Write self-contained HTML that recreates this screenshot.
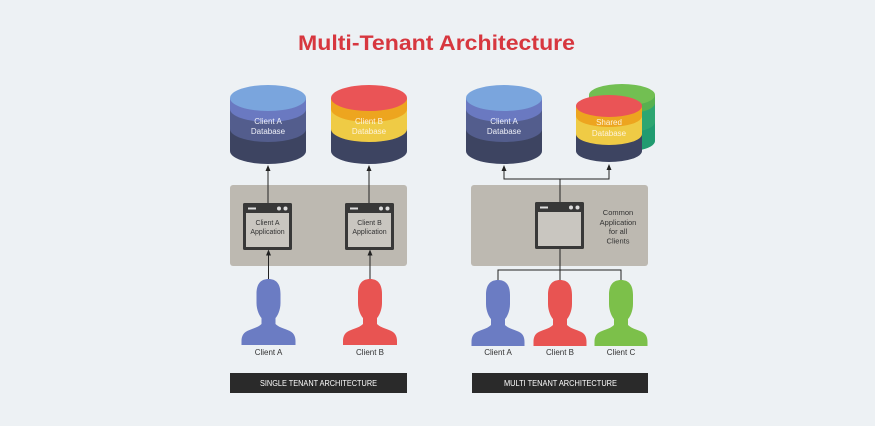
<!DOCTYPE html>
<html><head><meta charset="utf-8"><style>
html,body{margin:0;padding:0;background:#edf1f4;}
svg{display:block;}
text{font-family:"Liberation Sans",Arial,sans-serif;}
</style></head><body>
<svg width="875" height="426" viewBox="0 0 875 426" xmlns="http://www.w3.org/2000/svg">
<rect x="0" y="0" width="875" height="426" fill="#edf1f4"/>
<text x="298" y="50" font-size="21" font-weight="bold" fill="#d7373f" textLength="277" lengthAdjust="spacingAndGlyphs">Multi-Tenant Architecture</text>

<!-- Panels -->
<rect x="230" y="185" width="177" height="81" rx="3" fill="#bdb9b1"/>
<rect x="471" y="185" width="177" height="81" rx="3" fill="#bdb9b1"/>

<!-- Single A DB -->
<path d="M230,98 L230,151 A38,13 0 0 0 306,151 L306,98 Z" fill="#3d4461"/>
<path d="M230,98 L230,129 A38,13 0 0 0 306,129 L306,98 Z" fill="#535d8d"/>
<path d="M230,98 L230,109 A38,13 0 0 0 306,109 L306,98 Z" fill="#6a79c1"/>
<ellipse cx="268" cy="98" rx="38" ry="13" fill="#7aa5dd"/>
<text x="268" y="124" font-size="8" fill="#eef0f8" text-anchor="middle">Client A</text>
<text x="268" y="134" font-size="8" fill="#eef0f8" text-anchor="middle">Database</text>

<!-- Single B DB -->
<path d="M331,98 L331,151 A38,13 0 0 0 407,151 L407,98 Z" fill="#3d4461"/>
<path d="M331,98 L331,129 A38,13 0 0 0 407,129 L407,98 Z" fill="#efcb45"/>
<path d="M331,98 L331,109 A38,13 0 0 0 407,109 L407,98 Z" fill="#eda51f"/>
<ellipse cx="369" cy="98" rx="38" ry="13" fill="#ea5456"/>
<text x="369" y="124" font-size="8" fill="#fdf3dc" text-anchor="middle">Client B</text>
<text x="369" y="134" font-size="8" fill="#fdf3dc" text-anchor="middle">Database</text>

<!-- Multi A DB -->
<path d="M466,98 L466,151 A38,13 0 0 0 542,151 L542,98 Z" fill="#3d4461"/>
<path d="M466,98 L466,129 A38,13 0 0 0 542,129 L542,98 Z" fill="#535d8d"/>
<path d="M466,98 L466,109 A38,13 0 0 0 542,109 L542,98 Z" fill="#6a79c1"/>
<ellipse cx="504" cy="98" rx="38" ry="13" fill="#7aa5dd"/>
<text x="504" y="124" font-size="8" fill="#eef0f8" text-anchor="middle">Client A</text>
<text x="504" y="134" font-size="8" fill="#eef0f8" text-anchor="middle">Database</text>

<!-- Green back DB -->
<path d="M589,95 L589,141 A33,11 0 0 0 655,141 L655,95 Z" fill="#219b70"/>
<path d="M589,95 L589,122 A33,11 0 0 0 655,122 L655,95 Z" fill="#2ea671"/>
<path d="M589,95 L589,103 A33,11 0 0 0 655,103 L655,95 Z" fill="#58b14f"/>
<ellipse cx="622" cy="95" rx="33" ry="11" fill="#72bf52"/>

<!-- Shared front DB -->
<path d="M576,106 L576,151 A33,11 0 0 0 642,151 L642,106 Z" fill="#3d4461"/>
<path d="M576,106 L576,134 A33,11 0 0 0 642,134 L642,106 Z" fill="#efcb45"/>
<path d="M576,106 L576,116 A33,11 0 0 0 642,116 L642,106 Z" fill="#eda51f"/>
<ellipse cx="609" cy="106" rx="33" ry="11" fill="#ea5456"/>
<text x="609" y="125" font-size="8" fill="#fdf3dc" text-anchor="middle">Shared</text>
<text x="609" y="136" font-size="8" fill="#fdf3dc" text-anchor="middle">Database</text>

<!-- Windows -->
<g>
<rect x="243" y="203" width="49" height="47" rx="1.5" fill="#383838"/>
<rect x="246" y="213" width="43" height="34" fill="#c9c6c0"/>
<rect x="248" y="207.5" width="8" height="2" fill="#dddddd"/>
<circle cx="279" cy="208.5" r="2" fill="#dddddd"/>
<circle cx="285.5" cy="208.5" r="2" fill="#dddddd"/>
<text x="267.5" y="225" font-size="7" fill="#333" text-anchor="middle">Client A</text>
<text x="267.5" y="234" font-size="7" fill="#333" text-anchor="middle">Application</text>
</g>
<g>
<rect x="345" y="203" width="49" height="47" rx="1.5" fill="#383838"/>
<rect x="348" y="213" width="43" height="34" fill="#c9c6c0"/>
<rect x="350" y="207.5" width="8" height="2" fill="#dddddd"/>
<circle cx="381" cy="208.5" r="2" fill="#dddddd"/>
<circle cx="387.5" cy="208.5" r="2" fill="#dddddd"/>
<text x="369.5" y="225" font-size="7" fill="#333" text-anchor="middle">Client B</text>
<text x="369.5" y="234" font-size="7" fill="#333" text-anchor="middle">Application</text>
</g>
<g>
<rect x="535" y="202" width="49" height="47" rx="1.5" fill="#383838"/>
<rect x="538" y="212" width="43" height="34" fill="#c9c6c0"/>
<rect x="540" y="206.5" width="8" height="2" fill="#dddddd"/>
<circle cx="571" cy="207.5" r="2" fill="#dddddd"/>
<circle cx="577.5" cy="207.5" r="2" fill="#dddddd"/>
</g>
<text x="618" y="215" font-size="7.5" fill="#333" text-anchor="middle">Common</text>
<text x="618" y="225" font-size="7.5" fill="#333" text-anchor="middle">Application</text>
<text x="618" y="234" font-size="7.5" fill="#333" text-anchor="middle">for all</text>
<text x="618" y="243.5" font-size="7.5" fill="#333" text-anchor="middle">Clients</text>

<!-- Connectors single -->
<g stroke="#222" stroke-width="1" fill="none">
<line x1="268" y1="203" x2="268" y2="170"/>
<line x1="369" y1="203" x2="369" y2="170"/>
<line x1="268.5" y1="279" x2="268.5" y2="254"/>
<line x1="370" y1="279" x2="370" y2="254"/>
<line x1="560" y1="202" x2="560" y2="179"/>
<line x1="503.5" y1="179" x2="609.5" y2="179"/>
<line x1="504" y1="179" x2="504" y2="170"/>
<line x1="609" y1="179" x2="609" y2="169"/>
<line x1="560" y1="249" x2="560" y2="281"/>
<line x1="497.5" y1="270" x2="621.5" y2="270"/>
<line x1="498" y1="270" x2="498" y2="281"/>
<line x1="621" y1="270" x2="621" y2="281"/>
</g>
<g fill="#222">
<polygon points="268,165 265.5,171 270.5,171"/>
<polygon points="369,165 366.5,171 371.5,171"/>
<polygon points="268.5,249.5 266,255.5 271,255.5"/>
<polygon points="370,249.5 367.5,255.5 372.5,255.5"/>
<polygon points="504,165 501.5,171 506.5,171"/>
<polygon points="609,164 606.5,170 611.5,170"/>
</g>

<!-- Persons -->
<path fill="#6b7cc3" d="M256.5,294 C256.5,283 261.5,279 268.5,279 C275.5,279 280.5,283 280.5,294 L280.5,303 C280.5,310 277.5,316 275.5,318 L275.5,324 C278.5,327 282.5,328 287.5,330 C293.5,332 295.5,336 295.5,341 L295.5,345 L241.5,345 L241.5,341 C241.5,336 243.5,332 249.5,330 C254.5,328 258.5,327 261.5,324 L261.5,318 C259.5,316 256.5,310 256.5,303 Z"/>
<path fill="#e85452" d="M358,294 C358,283 363,279 370,279 C377,279 382,283 382,294 L382,303 C382,310 379,316 377,318 L377,324 C380,327 384,328 389,330 C395,332 397,336 397,341 L397,345 L343,345 L343,341 C343,336 345,332 351,330 C356,328 360,327 363,324 L363,318 C361,316 358,310 358,303 Z"/>
<path fill="#6b7cc3" d="M486,295 C486,284 491,280 498,280 C505,280 510,284 510,295 L510,304 C510,311 507,317 505,319 L505,325 C508,328 512,329 517,331 C523,333 524.5,337 524.5,342 L524.5,346 L471.5,346 L471.5,342 C471.5,337 473,333 479,331 C484,329 488,328 491,325 L491,319 C489,317 486,311 486,304 Z"/>
<path fill="#e85452" d="M548,295 C548,284 553,280 560,280 C567,280 572,284 572,295 L572,304 C572,311 569,317 567,319 L567,325 C570,328 574,329 579,331 C585,333 586.5,337 586.5,342 L586.5,346 L533.5,346 L533.5,342 C533.5,337 535,333 541,331 C546,329 550,328 553,325 L553,319 C551,317 548,311 548,304 Z"/>
<path fill="#7cc04a" d="M609,295 C609,284 614,280 621,280 C628,280 633,284 633,295 L633,304 C633,311 630,317 628,319 L628,325 C631,328 635,329 640,331 C646,333 647.5,337 647.5,342 L647.5,346 L594.5,346 L594.5,342 C594.5,337 596,333 602,331 C607,329 611,328 614,325 L614,319 C612,317 609,311 609,304 Z"/>

<!-- Labels -->
<g font-size="8" fill="#333" text-anchor="middle">
<text x="268.5" y="355">Client A</text>
<text x="370" y="355">Client B</text>
<text x="498" y="355">Client A</text>
<text x="560" y="355">Client B</text>
<text x="621" y="355">Client C</text>
</g>

<!-- Bars -->
<rect x="230" y="373" width="177" height="20" fill="#2a2a2a"/>
<text x="260" y="386" font-size="8" fill="#ffffff" textLength="117" lengthAdjust="spacingAndGlyphs">SINGLE TENANT ARCHITECTURE</text>
<rect x="472" y="373" width="176" height="20" fill="#2a2a2a"/>
<text x="504" y="386" font-size="8" fill="#ffffff" textLength="113" lengthAdjust="spacingAndGlyphs">MULTI TENANT ARCHITECTURE</text>
</svg>
</body></html>
